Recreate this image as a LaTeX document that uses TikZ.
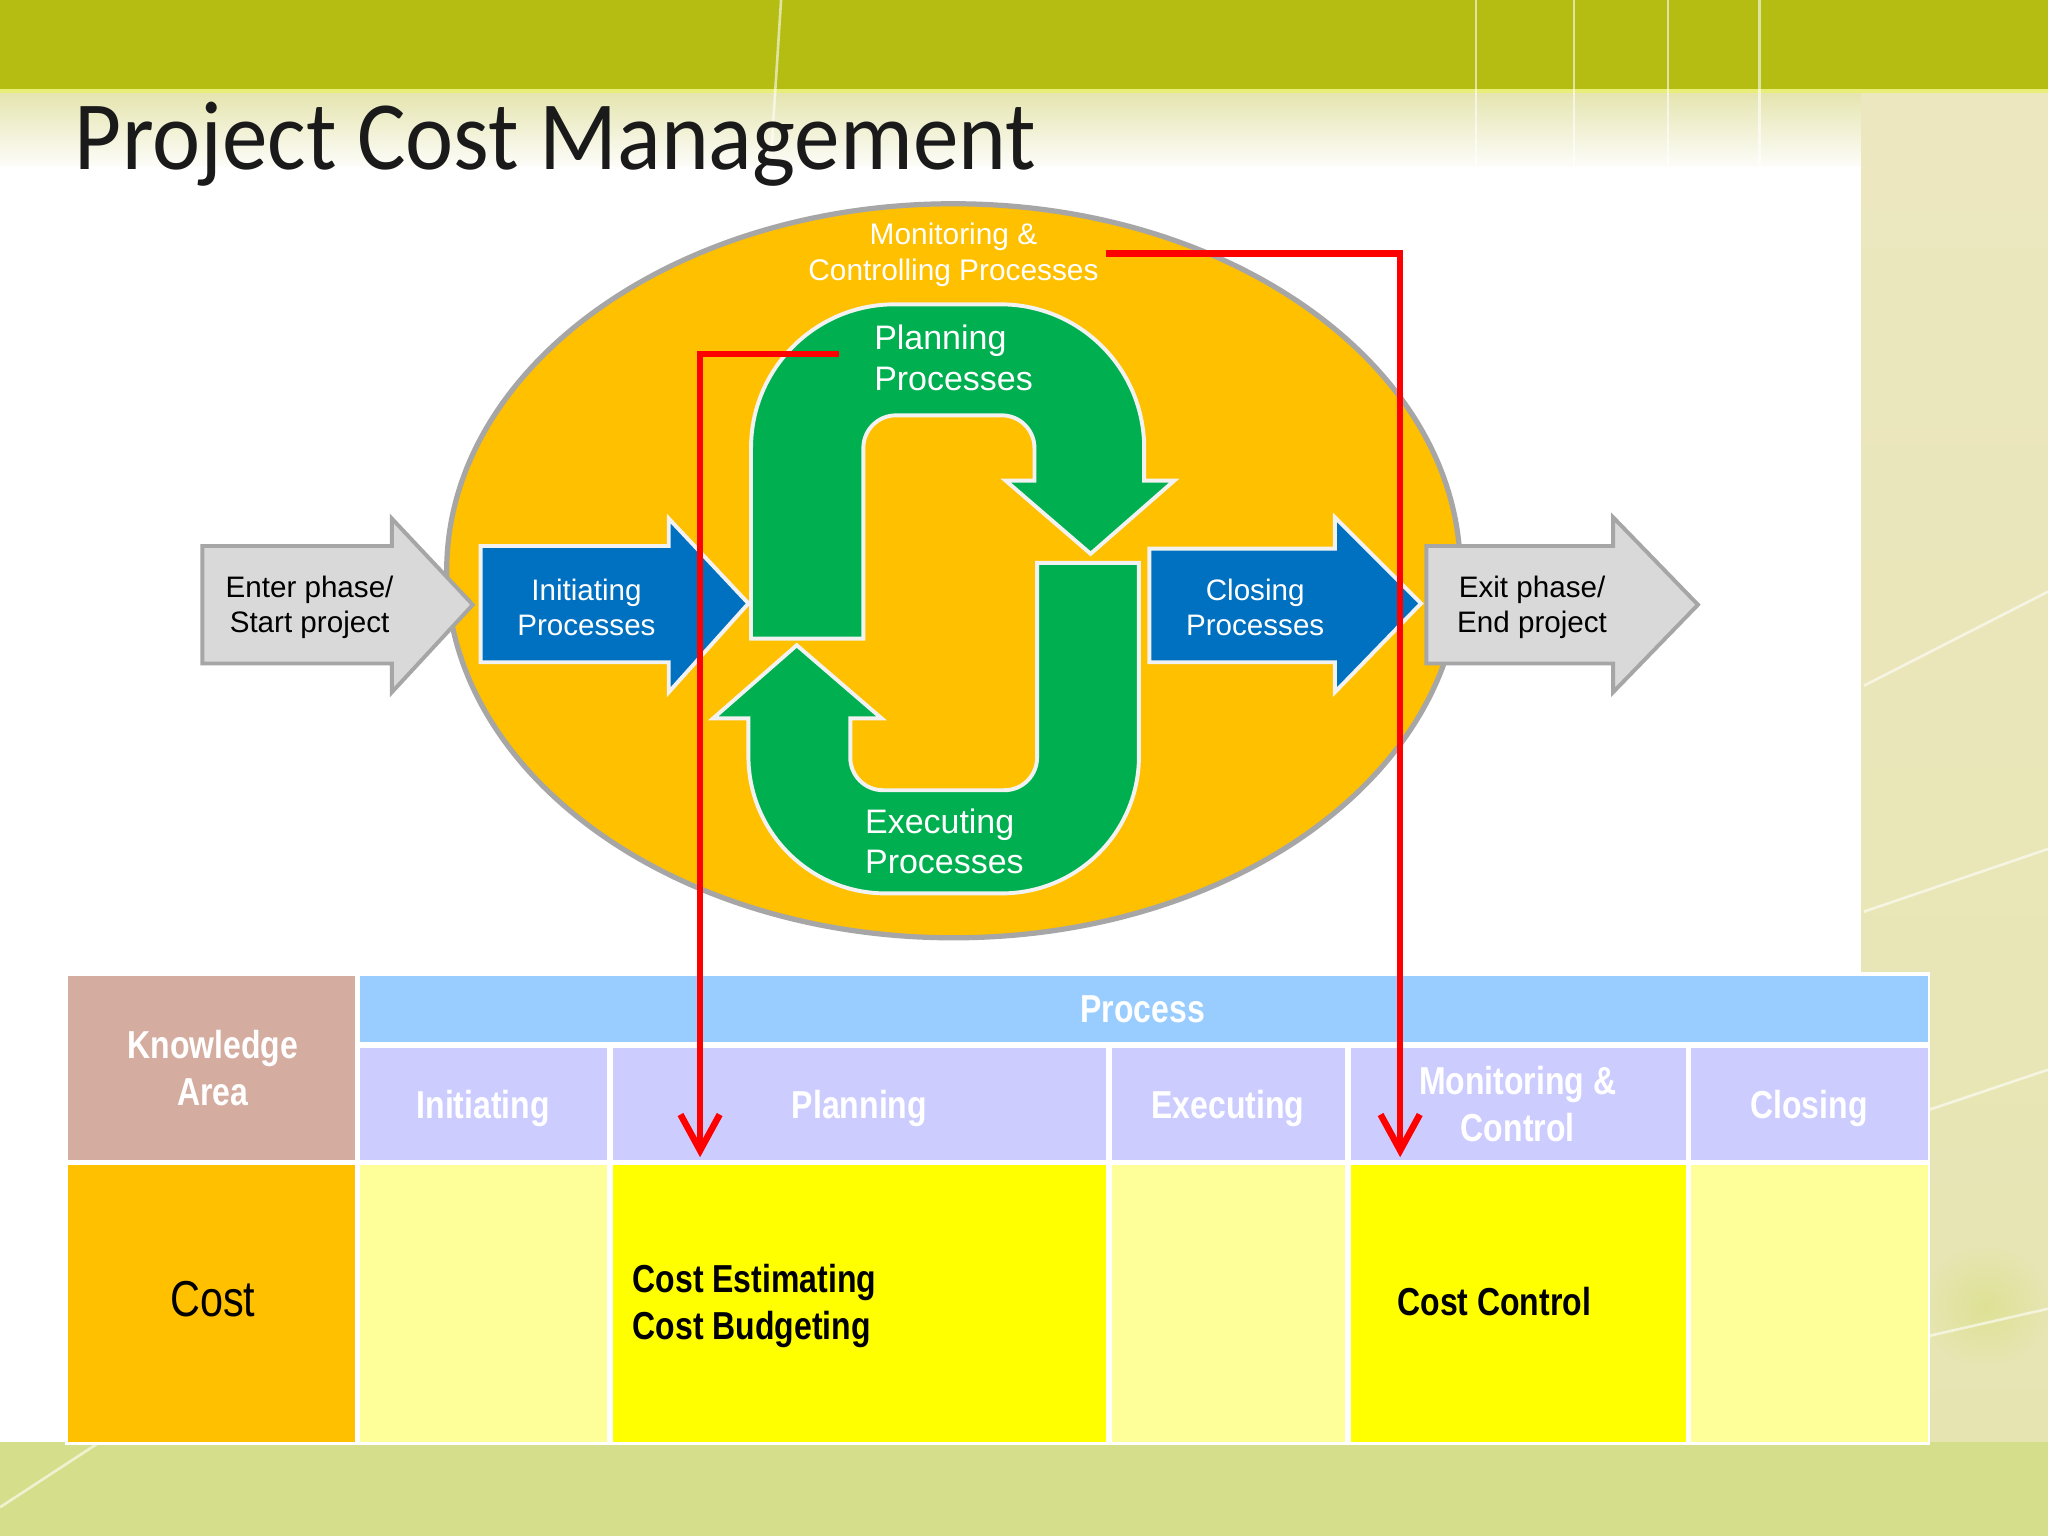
\documentclass[tikz,border=0pt]{standalone}
\usepackage{fontspec}
\usepackage{graphicx}
\setmainfont{Liberation Sans}
\newfontfamily\titlefont{Carlito}
\usetikzlibrary{arrows.meta}

\definecolor{bandgreen}{HTML}{B5BC12}
\definecolor{bandline}{HTML}{E9EE78}
\definecolor{bgcream}{HTML}{ECE7BF}
\definecolor{bottomgreen}{HTML}{D5DF8B}
\definecolor{ellorange}{HTML}{FFC000}
\definecolor{ellborder}{HTML}{A6A6A6}
\definecolor{phasegray}{HTML}{D9D9D9}
\definecolor{procblue}{HTML}{0070C0}
\definecolor{procgreen}{HTML}{00B050}
\definecolor{kacolor}{HTML}{D5ADA0}
\definecolor{headblue}{HTML}{99CCFF}
\definecolor{subcolor}{HTML}{CCCCFF}
\definecolor{lightyel}{HTML}{FFFF99}
\definecolor{brightyel}{HTML}{FFFF00}
\definecolor{linered}{HTML}{FF0000}
\definecolor{titleblack}{HTML}{1A1A1A}

\newcommand{\narrowtext}[2][c]{\scalebox{0.82}[1]{\begin{tabular}{@{}#1@{}}#2\end{tabular}}}

\begin{document}
\begin{tikzpicture}[x=0.02cm,y=-0.02cm,
  deco/.style={white,opacity=0.6,line width=0.04cm},
  chevgray/.style={fill=phasegray,draw=ellborder,line width=0.06cm},
  chevblue/.style={fill=procblue,draw=white!95!black,line width=0.06cm},
  loopgreen/.style={fill=procgreen,draw=white!95!black,line width=0.06cm},
  elltext/.style={text=white,font=\fontsize{13}{15.4}\selectfont,align=center,inner sep=0pt},
  arrowtext/.style={font=\fontsize{12.9}{15.4}\selectfont,align=center,inner sep=0pt},
  looptext/.style={text=white,font=\fontsize{14.8}{17.6}\selectfont,align=left,inner sep=0pt,anchor=west},
  headtext/.style={text=white,font=\fontsize{17}{20.5}\selectfont\bfseries,inner sep=0pt},
  bodytext/.style={font=\fontsize{17}{20.5}\selectfont\bfseries,inner sep=0pt},
  redline/.style={draw=linered,line width=0.1cm,-{Straight Barb[length=0.55cm,width=0.6cm]}}]
\useasboundingbox (0,0) rectangle (1568,1176);

% slide background
\fill[bgcream] (0,0) rectangle (1568,1176);
\shade[top color=bgcream!70!bottomgreen, bottom color=white!92!bgcream] (0,71) rectangle (1425,128);
\shade[top color=bgcream, bottom color=bgcream!75!bottomgreen] (1425,71) rectangle (1568,1104);
\shade[inner color=bandgreen!45!white, outer color=bgcream!75!bottomgreen] (1520,1000) ellipse (48 and 45);
\fill[bottomgreen] (0,1104) rectangle (1568,1176);
\fill[bandgreen] (0,0) rectangle (1568,68);
\fill[bandline] (0,68) rectangle (1568,71);
\fill[white] (0,128) rectangle (1425,1104);
\draw[deco] (598,0) -- (590,125);
\foreach \xl in {1130,1205,1277,1347}
  \draw[deco] (\xl,0) -- (\xl,128);
\draw[deco] (1427,525) -- (1568,453);
\draw[deco] (1427,698) -- (1568,650);
\draw[deco] (1476,850) -- (1568,819);
\draw[deco] (1476,1023) -- (1568,1002);
\draw[deco] (75,1105) -- (0,1154);

\node[anchor=base west,inner sep=0pt,text=titleblack,font=\titlefont\fontsize{42.7}{50}\selectfont] (title) at (57,130) {\scalebox{0.93}[1]{Project Cost Management}};

% process groups
\draw[fill=ellorange,draw=ellborder,line width=0.08cm] (730,437) ellipse (388 and 281);
\node[elltext] (monitor) at (730,195) {Monitoring \&\\Controlling Processes};

\draw[chevgray] (155,418) -- (300,418) -- (300,397) -- (362,463) -- (300,530) -- (300,508) -- (155,508) -- cycle;
\draw[chevgray] (1092,418) -- (1235,418) -- (1235,396) -- (1300,463) -- (1235,530) -- (1235,508) -- (1092,508) -- cycle;
\draw[chevblue] (368,418) -- (512,418) -- (512,397) -- (573,462) -- (512,530) -- (512,507) -- (368,507) -- cycle;
\draw[chevblue] (880,420) -- (1022,420) -- (1022,396) -- (1088,462) -- (1022,530) -- (1022,507) -- (880,507) -- cycle;
\node[arrowtext] (enter) at (237,465) {Enter phase/\\Start project};
\node[arrowtext] (exit) at (1173,465) {Exit phase/\\End project};
\node[arrowtext,text=white] (initiating) at (449,465) {Initiating\\Processes};
\node[arrowtext,text=white] (closing) at (961,465) {Closing\\Processes};

\draw[loopgreen] (575,489) -- (575,343) arc (180:270:110) -- (766,233) arc (270:360:110)
  -- (876,368) -- (899,368) -- (835,424) -- (770,368) -- (792,368) -- (792,343) arc (0:-90:25)
  -- (686,318) arc (270:180:25) -- (661,489) -- cycle;
\draw[loopgreen] (794,431) -- (872,431) -- (872,579) arc (0:90:105) -- (678,684) arc (90:180:105)
  -- (573,550) -- (546,550) -- (610,494) -- (675,550) -- (651,550) -- (651,580) arc (180:90:25)
  -- (769,605) arc (90:0:25) -- cycle;
\node[looptext] (planning) at (669,274) {Planning\\Processes};
\node[looptext] (executing) at (662,644) {Executing\\Processes};

% table
\fill[white] (50,744) rectangle (1478,1106);
\fill[kacolor] (52,747) rectangle (272,888);
\fill[headblue] (276,747) rectangle (1476,798);
\foreach \xa/\xb in {276/465,469/847,851/1030,1034/1291,1295/1476}
  \fill[subcolor] (\xa,802) rectangle (\xb,888);
\fill[ellorange] (52,892) rectangle (272,1104);
\foreach \xa/\xb/\cc in {276/465/lightyel,469/847/brightyel,851/1030/lightyel,1034/1291/brightyel,1295/1476/lightyel}
  \fill[\cc] (\xa,892) rectangle (\xb,1104);

\node[headtext] (karea) at (163,821) {\narrowtext{Knowledge\\Area}};
\node[headtext] (process) at (875,776) {\narrowtext{Process}};
\node[headtext] (hinit) at (370,849) {\narrowtext{Initiating}};
\node[headtext] (hplan) at (658,849) {\narrowtext{Planning}};
\node[headtext] (hexec) at (940,849) {\narrowtext{Executing}};
\node[headtext] (hmoni) at (1162,849) {\narrowtext{Monitoring \&\\Control}};
\node[headtext] (hclos) at (1385,849) {\narrowtext{Closing}};
\node[inner sep=0pt,font=\fontsize{22}{26}\selectfont] (cost) at (163,999) {\narrowtext{Cost}};
\node[bodytext,anchor=west] (costplan) at (484,1000) {\narrowtext[l]{Cost Estimating\\Cost Budgeting}};
\node[bodytext] (costctrl) at (1144,1000) {\narrowtext{Cost Control}};

% links from the groups to the table
\coordinate (plan-src) at (642,271);
\coordinate (plan-dst) at (536,886);
\coordinate (moni-src) at (847,194);
\coordinate (moni-dst) at (1072,886);
\draw[redline] (plan-src) -| (plan-dst);
\draw[redline] (moni-src) -| (moni-dst);
\end{tikzpicture}
\end{document}
